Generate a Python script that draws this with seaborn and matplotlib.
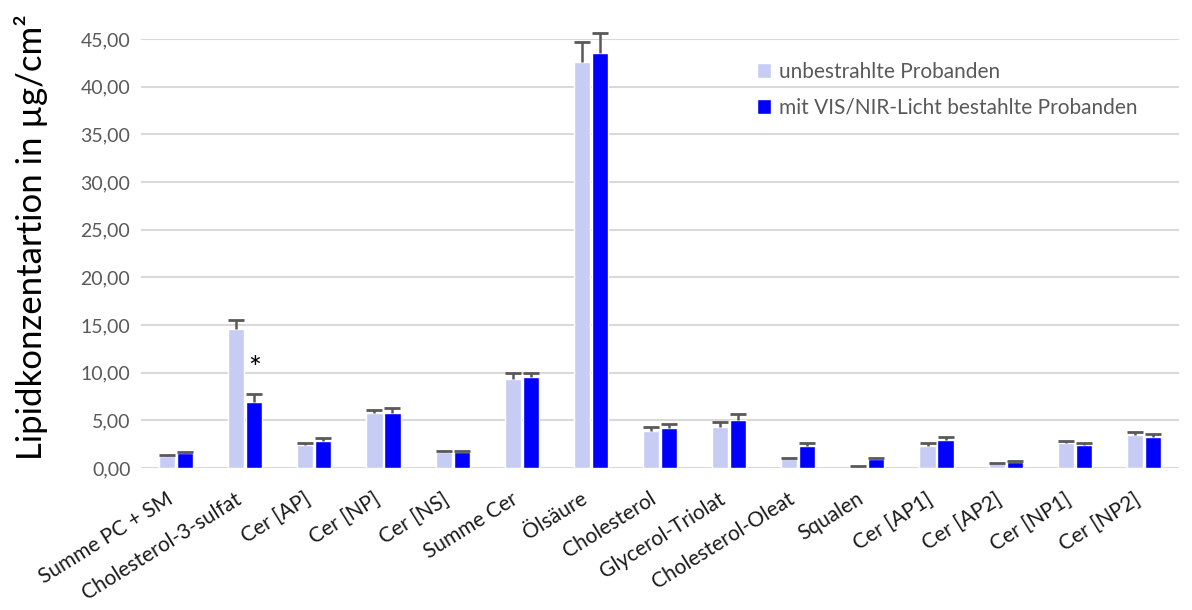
import numpy as np
import pandas as pd
import matplotlib.pyplot as plt
import seaborn as sns

# Werte
lipide = ["Summe PC + SM", "Cholesterol-3-sulfat", "Cer [AP]", "Cer [NP]", "Cer [NS]",
          "Summe Cer", "Ölsäure", "Cholesterol", "Glycerol-Triolat", "Cholesterol-Oleat",
          "Squalen", "Cer [AP1]", "Cer [AP2]", "Cer [NP1]", "Cer [NP2]"]
unbestrahlt = [1.30, 14.60, 2.45, 5.75, 1.65, 9.35, 42.60, 3.85, 4.35, 1.00,
               0.15, 2.35, 0.50, 2.60, 3.45]
unbestrahlt_sd = [0.10, 0.90, 0.20, 0.30, 0.15, 0.60, 2.10, 0.40, 0.50, 0.10,
                  0.05, 0.25, 0.07, 0.25, 0.35]
bestrahlt = [1.55, 6.90, 2.85, 5.80, 1.65, 9.50, 43.50, 4.20, 5.05, 2.35,
             0.97, 2.95, 0.63, 2.40, 3.25]
bestrahlt_sd = [0.15, 0.85, 0.30, 0.45, 0.15, 0.50, 2.10, 0.40, 0.65, 0.25,
                0.07, 0.30, 0.12, 0.25, 0.35]
gruppen = ["unbestrahlte Probanden", "mit VIS/NIR-Licht bestahlte Probanden"]
farben = ["#C7CCF5", "#0000FF"]
signifikant = "Cholesterol-3-sulfat"

df = pd.DataFrame({
    "Lipid": lipide * 2,
    "Wert": unbestrahlt + bestrahlt,
    "Gruppe": [gruppen[0]] * len(lipide) + [gruppen[1]] * len(lipide),
})

sns.set_theme(style="white")
plt.rcParams["font.family"] = ["Lato", "DejaVu Sans"]

fig = plt.figure(figsize=(11.92, 6.10), dpi=100)
ax = fig.add_axes([0.1187, 0.2328, 0.8700, 0.7033])

sns.barplot(data=df, x="Lipid", y="Wert", hue="Gruppe", palette=farben, saturation=1,
            width=0.52, gap=0.1, errorbar=None, ax=ax, zorder=3)

# einseitige Fehlerbalken (nur nach oben) wie in Excel
for cont, sd in zip(ax.containers, [unbestrahlt_sd, bestrahlt_sd]):
    xs = np.array([b.get_x() + b.get_width() / 2 for b in cont])
    hs = np.array([b.get_height() for b in cont])
    ax.vlines(xs, hs, hs + np.array(sd), color="#595959", linewidth=1.8,
              clip_on=False, zorder=4)
    ax.plot(xs, hs + np.array(sd), ls="none", marker="_", markersize=11,
            markeredgewidth=2, color="#595959", clip_on=False, zorder=4)

# Signifikanz-Stern
i = lipide.index(signifikant)
b = ax.containers[1][i]
ax.text(b.get_x() + b.get_width() / 2, bestrahlt[i] + bestrahlt_sd[i] + 2.6, "*",
        ha="center", va="center", fontsize=22, color="black")

ax.set_xlim(-0.5, len(lipide) - 0.5)
ax.set_ylim(0, 45)
ax.set_yticks(np.arange(0, 46, 5))
ax.set_yticklabels([f"{v:.2f}".replace(".", ",") for v in np.arange(0, 46, 5)],
                   fontsize=14, color="#595959")
ax.yaxis.grid(True, color="#D9D9D9", linewidth=1.5, zorder=0)
ax.set_axisbelow(True)
for s in ax.spines.values():
    s.set_visible(False)
ax.tick_params(axis="y", length=0, pad=8)
ax.tick_params(axis="x", length=0, pad=15)

ax.set_xlabel("")
ax.set_ylabel("Lipidkonzentartion in µg/cm²", fontsize=25, color="black")
ax.yaxis.set_label_coords(-0.09, 0.538)
plt.setp(ax.get_xticklabels(), rotation=32, ha="right", va="top",
         rotation_mode="default", fontsize=15, color="#1a1a1a")

handles, labels = ax.get_legend_handles_labels()
ax.legend(handles, labels, loc="upper left", bbox_to_anchor=(0.575, 0.99),
          frameon=False, fontsize=15, handlelength=0.7, handleheight=0.7,
          handletextpad=0.4, labelspacing=0.75, labelcolor="#595959")

fig.savefig("out.png", dpi=100)
